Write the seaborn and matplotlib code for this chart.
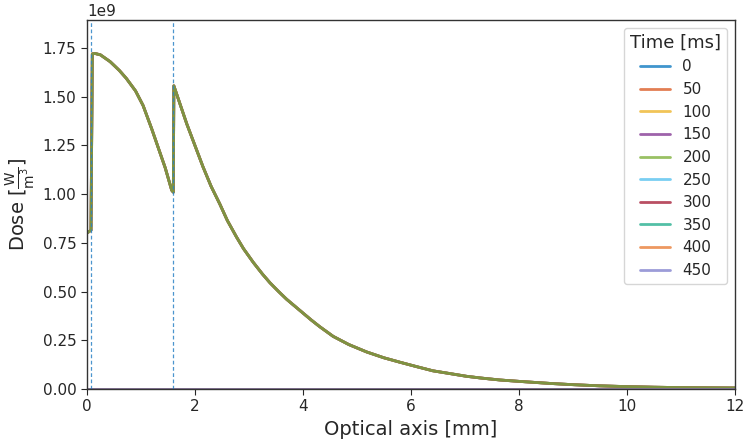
import numpy as np
import pandas as pd
import matplotlib
matplotlib.use("Agg")
import matplotlib.pyplot as plt
import seaborn as sns

# depth along the optical axis [mm] and dose [1e9 W/m^3]
depth_mm = [0.0, 0.075, 0.1, 0.15, 0.25, 0.43, 0.6, 0.73, 0.9, 1.04, 1.2,
            1.35, 1.45, 1.57, 1.6, 1.61, 1.85, 2.0, 2.15, 2.3, 2.46, 2.6,
            2.77, 2.9, 3.08, 3.25, 3.39, 3.55, 3.70, 3.85, 4.0, 4.15, 4.31,
            4.56, 4.85, 5.18, 5.5, 5.80, 6.1, 6.41, 6.7, 7.03, 7.3, 7.65,
            8.0, 8.27, 8.6, 9.0, 9.5, 10.0, 10.5, 11.0, 11.5, 12.0]
dose_e9 = [0.80, 0.815, 1.72, 1.722, 1.715, 1.68, 1.635, 1.594, 1.53, 1.455, 1.335,
           1.215, 1.135, 1.02, 1.01, 1.556, 1.36, 1.25, 1.14, 1.04, 0.95, 0.865,
           0.78, 0.72, 0.65, 0.59, 0.545, 0.50, 0.46, 0.425, 0.39, 0.355, 0.32,
           0.27, 0.228, 0.19, 0.16, 0.137, 0.115, 0.093, 0.08, 0.065, 0.056, 0.046,
           0.039, 0.034, 0.028, 0.022, 0.016, 0.012, 0.009, 0.007, 0.006, 0.005]

times_ms = [0, 50, 100, 150, 200, 250, 300, 350, 400, 450]
# which time steps carry the dose profile (later ones sit at zero)
has_dose = [True, True, True, True, True, False, False, False, False, False]
colors = ["#0072BD", "#D95319", "#EDB120", "#7E2F8E", "#77AC30",
          "#4DBEEE", "#A2142F", "#1AAA88", "#E8762C", "#7B7BCB"]

# layer boundaries [mm]
boundaries_mm = [0.075, 1.6]

rows = []
for t, on in zip(times_ms, has_dose):
    for x, y in zip(depth_mm, dose_e9):
        rows.append({"x": x, "dose": y * 1e9 if on else 0.0, "time": str(t)})
df = pd.DataFrame(rows)

sns.set_style("ticks")
plt.rcParams["font.family"] = ["DejaVu Sans"]
plt.rcParams["mathtext.fontset"] = "dejavusans"

fig = plt.figure(figsize=(7.43, 4.43), dpi=100)
ax = fig.add_axes([0.117, 0.122, 0.872, 0.833])

sns.lineplot(data=df, x="x", y="dose", hue="time",
             hue_order=[str(t) for t in times_ms],
             palette=dict(zip([str(t) for t in times_ms], colors)),
             linewidth=2, alpha=0.75, ax=ax, sort=False)

for b in boundaries_mm:
    ax.axvline(b, color="#2b83c6", linestyle=(0, (3, 2)), linewidth=0.9, alpha=0.85)

ax.set_xlim(0, 12)
ax.set_ylim(0, 1.1 * max(dose_e9) * 1e9)
ax.set_xlabel("Optical axis [mm]", fontsize=14)
ax.set_ylabel(r"Dose [$\frac{\mathrm{W}}{\mathrm{m}^3}$]", fontsize=14)
ax.tick_params(labelsize=11, direction="out", length=4)
for s in ax.spines.values():
    s.set_color("#333333")
    s.set_linewidth(1.0)
ax.yaxis.get_offset_text().set_fontsize(11)

leg = ax.legend(title="Time [ms]", fontsize=11, title_fontsize=13,
                loc="upper right", frameon=True)
for line in leg.get_lines():
    line.set_linewidth(2)

fig.savefig("out.png", dpi=100)
